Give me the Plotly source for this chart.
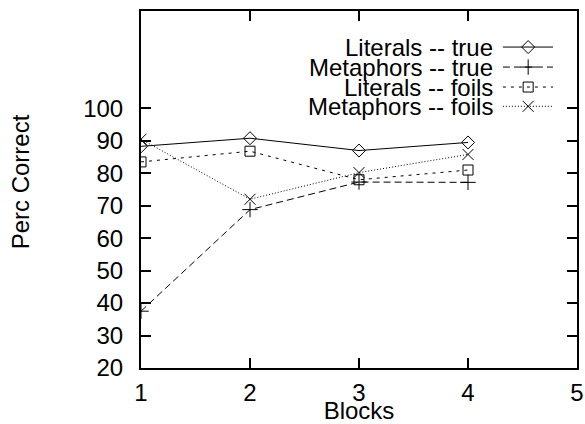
import plotly.graph_objects as go

blocks = [1, 2, 3, 4]
literals_true = [88.3, 90.8, 87.0, 89.5]
metaphors_true = [37.5, 68.8, 77.3, 77.2]
literals_foils = [83.5, 86.8, 78.0, 81.0]
metaphors_foils = [90.5, 72.0, 80.2, 85.8]

names = ["Literals -- true", "Metaphors -- true", "Literals -- foils", "Metaphors -- foils"]
series = [literals_true, metaphors_true, literals_foils, metaphors_foils]
symbols = ["diamond-open", "cross-thin-open", "square-open", "x-thin-open"]
dashes = ["solid", "7px,4px", "3px,5px", "1px,2px"]
msizes = [10, 11, 10, 11]

y_ticks = [20, 30, 40, 50, 60, 70, 80, 90, 100]
x_ticks = [1, 2, 3, 4, 5]

FONT = "Liberation Sans, Arial, sans-serif"
FS = 24

fig = go.Figure()
for nm, ys, sym, dsh, ms in zip(names, series, symbols, dashes, msizes):
    fig.add_trace(go.Scatter(
        x=blocks, y=ys, mode="lines+markers", name=nm, showlegend=False,
        line=dict(color="black", width=1, dash=dsh),
        marker=dict(symbol=sym, size=ms, color="black", line=dict(color="black", width=1)),
        xaxis="x", yaxis="y"))

# custom gnuplot-style key (text left, sample right) on an overlay axis in paper units
key_rows = [0.899, 0.843, 0.787, 0.733]
for nm, sym, dsh, ms, ry in zip(names, symbols, dashes, msizes, key_rows):
    fig.add_trace(go.Scatter(
        x=[0.830, 0.945], y=[ry, ry], mode="lines", showlegend=False,
        line=dict(color="black", width=1, dash=dsh), xaxis="x2", yaxis="y2"))
    fig.add_trace(go.Scatter(
        x=[0.888], y=[ry], mode="markers", showlegend=False,
        marker=dict(symbol=sym, size=ms, color="black", line=dict(color="black", width=1)),
        xaxis="x2", yaxis="y2"))
    fig.add_annotation(x=0.812, y=ry, xref="paper", yref="paper", text=nm,
                       showarrow=False, xanchor="right", yanchor="middle",
                       font=dict(family=FONT, size=FS, color="black"))

fig.add_annotation(x=-0.2775, y=0.52, xref="paper", yref="paper", text="Perc Correct",
                   showarrow=False, textangle=-90, xanchor="center", yanchor="middle",
                   font=dict(family=FONT, size=FS, color="black"))

fig.update_layout(
    width=585, height=424,
    margin=dict(l=141, r=8, t=11, b=56),
    paper_bgcolor="white", plot_bgcolor="white",
    font=dict(family=FONT, size=FS, color="black"),
    xaxis=dict(range=[1, 5], tickvals=x_ticks, ticks="inside", ticklen=10, tickwidth=1.5,
               tickcolor="black", showgrid=False, zeroline=False, showline=True,
               linecolor="black", linewidth=2, mirror="ticks", ticklabelstandoff=2,
               automargin=False,
               title=dict(text="Blocks", standoff=0, font=dict(size=FS)),
               tickfont=dict(size=FS)),
    yaxis=dict(range=[20, 130], tickvals=y_ticks, ticks="inside", ticklen=10, tickwidth=1.5,
               tickcolor="black", showgrid=False, zeroline=False, showline=True,
               linecolor="black", linewidth=2, mirror="ticks", ticklabelstandoff=11,
               automargin=False, tickfont=dict(size=FS)),
    xaxis2=dict(range=[0, 1], overlaying="x", visible=False, domain=[0, 1]),
    yaxis2=dict(range=[0, 1], overlaying="y", visible=False, domain=[0, 1]),
)

fig.write_html("out.html")
